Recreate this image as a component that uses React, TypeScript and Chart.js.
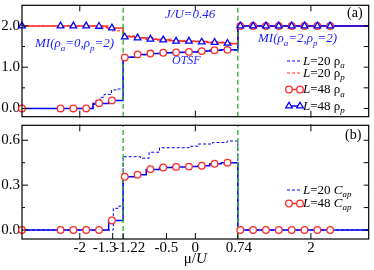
import React, { useEffect, useRef } from 'react';
import { Chart, registerables } from 'chart.js';
Chart.register(...registerables);

const FONT = '"Liberation Serif", "Times New Roman", "DejaVu Serif", serif';
const BLUE = '#0000ff';
const RED = '#ff2a2a';
const GREEN = 'rgb(40,170,40)';
const TXTBLUE = '#1a1aff';

// ---- x axis ----
const muMin = -3;
const muMax = 3;
const xTickVals = [-2, -1.43, -1.25, -0.5, 0, 0.735, 2];
const xTickLabels = ['-2', '-1.3', '-1.22', '-0.5', '0', '0.74', '2'];
const xLabelNudge = [0, -8, 6.5, 0, 0, 1, 0];
const xMajorShared = [-2, 0, 2];
const phaseBounds = [-1.25, 0.735];

// ---- panel (a) y axis ----
const yRangeA = [-0.2, 2.5];
const yTickValsA = [0, 1, 2];
const yTickLabelsA = ['0.0', '1.0', '2.0'];
const yMinorA = [0.5, 1.5];
const yRightA = [0, 0.5, 1, 1.5, 2];

// ---- panel (b) y axis ----
const yRangeB = [-0.06, 0.7];
const yTickValsB = [0, 0.3, 0.6];
const yTickLabelsB = ['0.0', '0.3', '0.6'];
const yMinorB = [0.15, 0.45];
const yRightB = [0, 0.15, 0.3, 0.45, 0.6];

// ---- L=48 symbols ----
const muMarkers = [-3, -2.333, -2.111, -1.889, -1.667, -1.444, -1.222, -1.0, -0.778, -0.556, -0.333, -0.111, 0.111, 0.333, 0.556, 0.778, 1.0, 1.222, 1.444, 1.667, 1.889, 2.111, 2.333];
const rhoA48Markers = [0, 0, 0, 0, 0.128, 0.195, 1.236, 1.31, 1.33, 1.35, 1.36, 1.37, 1.39, 1.41, 1.42, 2, 2, 2, 2, 2, 2, 2, 2];
const rhoP48Markers = [2, 2, 2, 2, 1.99, 1.95, 1.73, 1.71, 1.68, 1.66, 1.63, 1.63, 1.61, 1.6, 1.58, 2, 2, 2, 2, 2, 2, 2, 2];
const cap48Markers = [0, 0, 0, 0, 0, 0.064, 0.356, 0.37, 0.407, 0.418, 0.422, 0.424, 0.43, 0.443, 0.45, 0, 0, 0, 0, 0, 0, 0, 0];

// ---- step curves (value holds from mu[i] to mu[i+1]) ----
const muRhoA48 = [-3, -1.77, -1.5, -1.25, -1.02, -0.82, -0.6, -0.4, -0.15, 0.05, 0.25, 0.45, 0.735, 3];
const rhoA48 = [0, 0.12, 0.19, 1.24, 1.31, 1.33, 1.35, 1.36, 1.37, 1.39, 1.41, 1.42, 2.0, 2.0];

const muRhoP48 = [-3, -1.52, -1.25, -1.05, -0.85, -0.65, -0.45, -0.25, 0.0, 0.2, 0.4, 0.6, 0.735, 3];
const rhoP48 = [2.0, 1.95, 1.74, 1.71, 1.68, 1.66, 1.64, 1.63, 1.62, 1.6, 1.59, 1.57, 2.0, 2.0];

const muRhoA20 = [-3, -1.78, -1.72, -1.65, -1.58, -1.45, -1.35, -1.25, -1.0, -0.8, -0.5, -0.2, 0.1, 0.4, 0.735, 3];
const rhoA20 = [0, 0.1, 0.2, 0.27, 0.34, 0.45, 0.47, 1.25, 1.3, 1.33, 1.35, 1.37, 1.39, 1.41, 2.0, 2.0];

const muRhoP20 = [-3, -1.6, -1.45, -1.25, -1.0, -0.7, -0.4, -0.1, 0.2, 0.5, 0.735, 3];
const rhoP20 = [2.0, 1.96, 1.88, 1.76, 1.72, 1.68, 1.65, 1.63, 1.61, 1.58, 2.0, 2.0];

const muCap48 = [-3, -1.5, -1.25, -1.02, -0.85, -0.62, -0.4, -0.15, 0.05, 0.25, 0.45, 0.735, 3];
const cap48 = [0, 0.064, 0.356, 0.37, 0.405, 0.418, 0.422, 0.424, 0.43, 0.443, 0.45, 0, 0];

const muCap20 = [-3, -1.42, -1.32, -1.25, -0.95, -0.8, -0.62, -0.1, 0.05, 0.3, 0.55, 0.735, 3];
const cap20 = [0, 0.145, 0.16, 0.49, 0.48, 0.52, 0.55, 0.56, 0.575, 0.585, 0.595, 0, 0];

const pts = (xs: number[], ys: number[]) => xs.map((x, i) => ({ x, y: ys[i] }));

type Part = [string, string];
function drawRich(ctx: CanvasRenderingContext2D, x: number, y: number, parts: Part[], size: number, color: string, center = false) {
  ctx.fillStyle = color;
  ctx.textBaseline = 'alphabetic';
  ctx.textAlign = 'left';
  const fontFor = (st: string) => {
    const sub = st.startsWith('s');
    const it = st.endsWith('i');
    const fs = sub ? Math.round(size * 0.7) : size;
    return `${it ? 'italic ' : ''}${fs}px ${FONT}`;
  };
  let total = 0;
  for (const [t, st] of parts) { ctx.font = fontFor(st); total += ctx.measureText(t).width; }
  let cx = center ? x - total / 2 : x;
  for (const [t, st] of parts) {
    ctx.font = fontFor(st);
    ctx.fillText(t, cx, y + (st.startsWith('s') ? size * 0.3 : 0));
    cx += ctx.measureText(t).width;
  }
}

function circle(ctx: CanvasRenderingContext2D, x: number, y: number, r: number) {
  ctx.beginPath(); ctx.arc(x, y, r, 0, Math.PI * 2);
  ctx.fillStyle = '#fff'; ctx.fill();
  ctx.strokeStyle = RED; ctx.lineWidth = 1.3; ctx.stroke();
}
function triangle(ctx: CanvasRenderingContext2D, x: number, y: number, r: number) {
  ctx.beginPath();
  for (let k = 0; k < 3; k++) {
    const a = k * 2 * Math.PI / 3;
    const px = x + Math.sin(a) * r, py = y - Math.cos(a) * r;
    if (k === 0) ctx.moveTo(px, py); else ctx.lineTo(px, py);
  }
  ctx.closePath();
  ctx.fillStyle = '#fff'; ctx.fill();
  ctx.strokeStyle = BLUE; ctx.lineWidth = 1.3; ctx.stroke();
}
function seg(ctx: CanvasRenderingContext2D, x1: number, x2: number, y: number, color: string, dash: number[], w: number) {
  ctx.beginPath(); ctx.setLineDash(dash); ctx.moveTo(x1, y); ctx.lineTo(x2, y);
  ctx.strokeStyle = color; ctx.lineWidth = w; ctx.stroke(); ctx.setLineDash([]);
}

function framePlugin(panel: 'a' | 'b') {
  return {
    id: 'frame' + panel,
    afterDraw(chart: any) {
      const ctx: CanvasRenderingContext2D = chart.ctx;
      const { left, right, top, bottom } = chart.chartArea;
      const xs = chart.scales.x, ys = chart.scales.y;
      ctx.save();
      ctx.strokeStyle = '#000';
      ctx.lineWidth = 1.2;
      ctx.strokeRect(left, top, right - left, bottom - top);
      ctx.lineWidth = 1;
      const vline = (x: number, y1: number, y2: number) => { ctx.beginPath(); ctx.moveTo(x, y1); ctx.lineTo(x, y2); ctx.stroke(); };
      const hline = (y: number, x1: number, x2: number) => { ctx.beginPath(); ctx.moveTo(x1, y); ctx.lineTo(x2, y); ctx.stroke(); };
      const major = panel === 'a' ? yTickValsA : yTickValsB;
      const minor = panel === 'a' ? yMinorA : yMinorB;
      const rightT = panel === 'a' ? yRightA : yRightB;
      major.forEach(v => hline(ys.getPixelForValue(v), left, left + 6));
      minor.forEach(v => hline(ys.getPixelForValue(v), left, left + 3));
      rightT.forEach(v => hline(ys.getPixelForValue(v), right - 5, right));
      if (panel === 'a') {
        xMajorShared.forEach(v => vline(xs.getPixelForValue(v), top, top + 6));
        xMajorShared.forEach(v => vline(xs.getPixelForValue(v), bottom - 6, bottom + 1));
      } else {
        xMajorShared.forEach(v => vline(xs.getPixelForValue(v), top - 1, top + 6));
        xTickVals.forEach(v => vline(xs.getPixelForValue(v), bottom - 6, bottom));
      }

      if (panel === 'a') {
        drawRich(ctx, 165, 18, [['J/U=0.46', 'i']], 13, TXTBLUE);
        drawRich(ctx, 35, 47, [['MI(ρ', 'i'], ['a', 'si'], ['=0,ρ', 'i'], ['p', 'si'], ['=2)', 'i']], 13, TXTBLUE);
        drawRich(ctx, 172, 64, [['OTSF', 'i']], 12, TXTBLUE);
        drawRich(ctx, 258, 42, [['MI(ρ', 'i'], ['a', 'si'], ['=2,ρ', 'i'], ['p', 'si'], ['=2)', 'i']], 13, TXTBLUE);
        drawRich(ctx, 347, 17, [['(a)', 'n']], 14, '#000');
        // legend
        seg(ctx, 287, 302, 61, BLUE, [3, 2], 1);
        drawRich(ctx, 303, 64.5, [['L', 'i'], ['=20 ', 'n'], ['ρ', 'n'], ['a', 'si']], 13, '#000');
        seg(ctx, 287, 302, 73, RED, [3, 2], 1);
        drawRich(ctx, 303, 76.5, [['L', 'i'], ['=20 ', 'n'], ['ρ', 'n'], ['p', 'si']], 13, '#000');
        seg(ctx, 289, 300, 89.5, RED, [], 1.5);
        circle(ctx, 289, 89.5, 3.3); circle(ctx, 300, 89.5, 3.3);
        drawRich(ctx, 303, 93, [['L', 'i'], ['=48 ', 'n'], ['ρ', 'n'], ['a', 'si']], 13, '#000');
        seg(ctx, 289, 300, 106, BLUE, [], 1.5);
        triangle(ctx, 289, 106, 3.8); triangle(ctx, 300, 106, 3.8);
        drawRich(ctx, 303, 109.5, [['L', 'i'], ['=48 ', 'n'], ['ρ', 'n'], ['p', 'si']], 13, '#000');
      } else {
        drawRich(ctx, 345, 19, [['(b)', 'n']], 14, '#000');
        seg(ctx, 287, 302, 70, BLUE, [3, 2], 1);
        drawRich(ctx, 303, 73.5, [['L', 'i'], ['=20 ', 'n'], ['C', 'i'], ['ap', 'si']], 13, '#000');
        seg(ctx, 289, 300, 83.5, RED, [], 1.5);
        circle(ctx, 289, 83.5, 3.3); circle(ctx, 300, 83.5, 3.3);
        drawRich(ctx, 303, 86.5, [['L', 'i'], ['=48 ', 'n'], ['C', 'i'], ['ap', 'si']], 13, '#000');
        // x tick labels
        xTickVals.forEach((v, i) => {
          drawRich(ctx, xs.getPixelForValue(v) + xLabelNudge[i], bottom + 13, [[xTickLabels[i], 'n']], 15, '#000', true);
        });
        drawRich(ctx, (left + right) / 2, bottom + 24, [['μ/', 'n'], ['U', 'i']], 15, '#000', true);
      }
      ctx.restore();
    },
  };
}

function yAxis(range: number[], vals: number[], labels: string[]) {
  return {
    type: 'linear',
    min: range[0],
    max: range[1],
    afterBuildTicks: (s: any) => { s.ticks = vals.map(v => ({ value: v })); },
    afterFit: (s: any) => { s.width = 22; s.paddingTop = 0; s.paddingBottom = 0; },
    grid: { display: false, drawTicks: false },
    border: { display: false },
    ticks: { padding: 2, color: '#000', font: { family: FONT, size: 15 }, callback: (_v: any, i: number) => labels[i] },
  };
}

const lineDs = (xs: number[], ys: number[], color: string, width: number, dash: number[] = []) => ({
  data: pts(xs, ys), borderColor: color, borderWidth: width, borderDash: dash, pointRadius: 0, stepped: true, fill: false,
});
const greenDs = (b: number, range: number[]) => ({
  data: [{ x: b, y: range[0] }, { x: b, y: range[1] }], borderColor: GREEN, borderWidth: 1.3, borderDash: [5, 3], pointRadius: 0, fill: false,
});
const circleDs = (ys: number[]) => ({
  data: pts(muMarkers, ys), showLine: false, pointStyle: 'circle', pointRadius: 3.3, pointBorderWidth: 1.3,
  pointBorderColor: RED, pointBackgroundColor: '#fff', borderColor: RED, clip: false,
});
const triDs = (ys: number[]) => ({
  data: pts(muMarkers, ys), showLine: false, pointStyle: 'triangle', pointRadius: 3.8, pointBorderWidth: 1.3,
  pointBorderColor: BLUE, pointBackgroundColor: '#fff', borderColor: BLUE, clip: false,
});

function makeConfig(panel: 'a' | 'b'): any {
  const datasets = panel === 'a'
    ? [
      triDs(rhoP48Markers),
      circleDs(rhoA48Markers),
      greenDs(phaseBounds[0], yRangeA),
      greenDs(phaseBounds[1], yRangeA),
      lineDs(muRhoA48, rhoA48, BLUE, 1.5),
      lineDs(muRhoP48, rhoP48, RED, 1.5),
      lineDs(muRhoA20, rhoA20, BLUE, 1, [3, 2]),
      lineDs(muRhoP20, rhoP20, RED, 1, [3, 2]),
    ]
    : [
      circleDs(cap48Markers),
      greenDs(phaseBounds[0], yRangeB),
      greenDs(phaseBounds[1], yRangeB),
      lineDs(muCap48, cap48, BLUE, 1.5),
      lineDs(muCap20, cap20, BLUE, 1, [3, 2]),
    ];
  return {
    type: 'line',
    data: { datasets },
    options: {
      animation: false,
      responsive: false,
      maintainAspectRatio: false,
      devicePixelRatio: 1,
      layout: { padding: panel === 'a' ? { top: 1, right: 2, bottom: 1, left: 0 } : { top: 1, right: 2, bottom: 31, left: 0 } },
      plugins: { legend: { display: false }, tooltip: { enabled: false } },
      scales: {
        x: { type: 'linear', min: muMin, max: muMax, display: false },
        y: panel === 'a' ? yAxis(yRangeA, yTickValsA, yTickLabelsA) : yAxis(yRangeB, yTickValsB, yTickLabelsB),
      },
    },
    plugins: [framePlugin(panel)],
  };
}

export default function App() {
  const refA = useRef<HTMLCanvasElement>(null);
  const refB = useRef<HTMLCanvasElement>(null);
  useEffect(() => {
    const a = new Chart(refA.current as HTMLCanvasElement, makeConfig('a'));
    const b = new Chart(refB.current as HTMLCanvasElement, makeConfig('b'));
    return () => { a.destroy(); b.destroy(); };
  }, []);
  return (
    <div style={{ position: 'absolute', left: 0, top: 0, width: 374, height: 270, background: '#fff', overflow: 'hidden' }}>
      <canvas ref={refA} width={374} height={122} style={{ position: 'absolute', left: 0, top: 0, width: 374, height: 122 }} />
      <canvas ref={refB} width={374} height={150} style={{ position: 'absolute', left: 0, top: 120, width: 374, height: 150 }} />
    </div>
  );
}
